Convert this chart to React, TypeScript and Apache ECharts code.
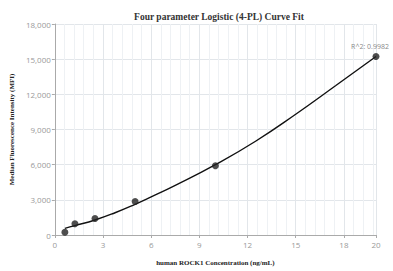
import React, { useEffect, useRef } from "react";
import * as echarts from "echarts";

const conc = [0.625, 1.25, 2.5, 5, 10, 20];
const mfi = [240, 960, 1400, 2860, 5900, 15230];
const fitX = [0.625, 1.25, 2.5, 3.75, 5, 6, 7.5, 10, 12.5, 15, 17.5, 20];
const fitY = [570, 800, 1280, 1900, 2620, 3250, 4230, 6000, 8000, 10300, 12750, 15230];
const r2Label = "R^2: 0.9982";

export default function App() {
  const ref = useRef<HTMLDivElement>(null);
  useEffect(() => {
    const chart = echarts.init(ref.current!, null, { renderer: "svg" });
    const axisLabel = { color: "#999", fontSize: 8, fontFamily: "Open Sans, sans-serif" };
    const nameStyle = { fontFamily: "Liberation Serif, serif", fontSize: 7, fontWeight: "bold", color: "#222" };
    chart.setOption({
      animation: false,
      title: {
        text: "Four parameter Logistic (4-PL) Curve Fit",
        left: 214,
        top: 7,
        textAlign: "center",
        textStyle: { fontFamily: "Liberation Serif, serif", fontSize: 9.5, fontWeight: "bold", color: "#333" },
      },
      grid: { left: 51, right: 17, top: 24, bottom: 31 },
      xAxis: {
        type: "value",
        min: 0,
        max: 20,
        interval: 3,
        name: "human ROCK1 Concentration (ng/mL)",
        nameLocation: "middle",
        nameGap: 24,
        nameTextStyle: nameStyle,
        axisLine: { lineStyle: { color: "#aaa" } },
        axisTick: { show: true, length: 3, lineStyle: { color: "#aaa" } },
        axisLabel: { ...axisLabel, showMaxLabel: true, margin: 5 },
        splitLine: { show: true, lineStyle: { color: "#e2e6ea" } },
        minorTick: { show: false, splitNumber: 5 },
        minorSplitLine: { show: true, lineStyle: { color: "#eef1f4" } },
      },
      yAxis: {
        type: "value",
        min: 0,
        max: 18000,
        interval: 3000,
        name: "Median Fluorescence Intensity (MFI)",
        nameLocation: "middle",
        nameGap: 32,
        nameTextStyle: nameStyle,
        axisLine: { show: true, lineStyle: { color: "#aaa" } },
        axisTick: { show: true, length: 3, lineStyle: { color: "#aaa" } },
        axisLabel: {
          ...axisLabel,
          margin: 4,
          formatter: (v: number) => v.toLocaleString("en-US"),
        },
        splitLine: { show: true, lineStyle: { color: "#e2e6ea" } },
      },
      series: [
        {
          type: "line",
          data: fitX.map((x, i) => [x, fitY[i]]),
          smooth: true,
          showSymbol: false,
          lineStyle: { color: "#111", width: 1.4 },
          z: 2,
        },
        {
          type: "scatter",
          data: conc.map((x, i) => [x, mfi[i]]),
          symbolSize: 7,
          itemStyle: { color: "#222" },
          z: 3,
          label: {
            show: true,
            position: "top",
            distance: 3,
            offset: [-6, 0],
            fontSize: 7,
            color: "#666",
            fontFamily: "Open Sans, sans-serif",
            formatter: (p: any) => (p.dataIndex === conc.length - 1 ? r2Label : ""),
          },
        },
      ],
    });
    return () => chart.dispose();
  }, []);
  return <div ref={ref} style={{ width: 393, height: 271, position: "absolute", left: 0, top: 0 }} />;
}
